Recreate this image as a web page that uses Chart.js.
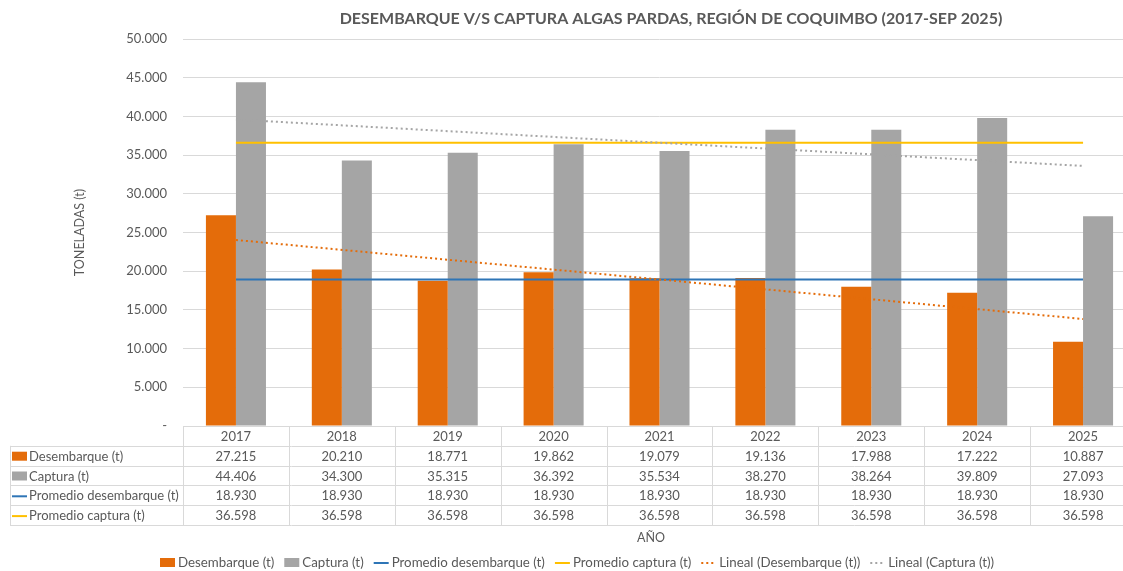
<!DOCTYPE html>
<html><head><meta charset="utf-8">
<script src="https://cdn.jsdelivr.net/npm/chart.js@4"></script>
<style>
html,body{margin:0;padding:0;background:#fff;overflow:hidden;width:1123px;height:571px}
#wrap{width:1140px;height:571px}
</style></head>
<body><div id="wrap"><canvas id="c" width="1140" height="571"></canvas></div>
<script>
const categories = ['2017','2018','2019','2020','2021','2022','2023','2024','2025'];
const desembarque = [27215, 20210, 18771, 19862, 19079, 19136, 17988, 17222, 10887];
const captura = [44406, 34300, 35315, 36392, 35534, 38270, 38264, 39809, 27093];
const promedioDesembarque = [18930, 18930, 18930, 18930, 18930, 18930, 18930, 18930, 18930];
const promedioCaptura = [36598, 36598, 36598, 36598, 36598, 36598, 36598, 36598, 36598];
const linealDesembarque = [24034, null, null, null, null, null, null, null, 13826];
const linealCaptura = [39595, null, null, null, null, null, null, null, 33601];
const yTickValues = [0, 5000, 10000, 15000, 20000, 25000, 30000, 35000, 40000, 45000, 50000];
const chartTitle = 'DESEMBARQUE V/S CAPTURA ALGAS PARDAS, REGIÓN DE COQUIMBO (2017-SEP 2025)';
const yTitle = 'TONELADAS (t)';
const xTitle = 'AÑO';

const ORANGE = '#E46C0A', GRAY = '#A5A5A5', BLUE = '#2E75B6', YELLOW = '#FFC000';
const TXT = '#595959', LINE = '#D9D9D9';
const FONT = 'Lato, "Open Sans", sans-serif';

function fmt(v){
  if (v === 0) return '-';
  return String(Math.round(v)).replace(/\B(?=(\d{3})+(?!\d))/g, '.');
}

const extras = {
  id: 'extras',
  afterDraw(chart){
    const ctx = chart.ctx, ca = chart.chartArea, xs = chart.scales.x;
    const ds = chart.data.datasets;
    ctx.save();
    // Title
    ctx.fillStyle = TXT;
    ctx.font = 'bold 16px ' + FONT;
    ctx.textAlign = 'center'; ctx.textBaseline = 'middle';
    ctx.fillText(chartTitle, 671, 19);
    // Y title
    ctx.save();
    ctx.translate(80, (ca.top + ca.bottom)/2);
    ctx.rotate(-Math.PI/2);
    ctx.font = '12.5px ' + FONT;
    ctx.fillText(yTitle, 0, 0);
    ctx.restore();
    // Table
    const n = categories.length;
    const step = xs.getPixelForValue(1) - xs.getPixelForValue(0);
    const top = ca.bottom, rh = 19.8;
    const rows = [
      {ds: ds[0], kind: 'rect', data: desembarque},
      {ds: ds[1], kind: 'rect', data: captura},
      {ds: ds[2], kind: 'line', data: promedioDesembarque},
      {ds: ds[3], kind: 'line', data: promedioCaptura}
    ];
    const bottom = top + rh * (rows.length + 1);
    const left = 10;
    ctx.strokeStyle = LINE; ctx.lineWidth = 1;
    ctx.beginPath();
    ctx.moveTo(ca.left, top + 0.5); ctx.lineTo(ca.right, top + 0.5);
    for (let r = 1; r <= rows.length + 1; r++){
      const y = Math.round(top + rh * r) + 0.5;
      ctx.moveTo(left, y); ctx.lineTo(ca.right, y);
    }
    for (let i = 0; i <= n; i++){
      const x = Math.round(xs.getPixelForValue(i) - step/2) + 0.5;
      ctx.moveTo(x, top); ctx.lineTo(x, bottom);
    }
    ctx.moveTo(left + 0.5, top + rh); ctx.lineTo(left + 0.5, bottom);
    ctx.stroke();
    ctx.font = '13px ' + FONT;
    ctx.fillStyle = TXT; ctx.textAlign = 'center'; ctx.textBaseline = 'middle';
    categories.forEach((c, i) => ctx.fillText(c, xs.getPixelForValue(i), top + rh/2 + 1));
    rows.forEach((row, r) => {
      const yc = top + rh * (r + 1) + rh/2 + 1;
      if (row.kind === 'rect'){
        ctx.fillStyle = row.ds.backgroundColor;
        ctx.fillRect(12, yc - 5, 15, 9);
      } else {
        ctx.strokeStyle = row.ds.borderColor; ctx.lineWidth = 2;
        ctx.beginPath(); ctx.moveTo(12, yc); ctx.lineTo(27, yc); ctx.stroke();
      }
      ctx.fillStyle = TXT; ctx.textAlign = 'left';
      ctx.fillText(row.ds.label, 29, yc);
      ctx.textAlign = 'center';
      row.data.forEach((v, i) => ctx.fillText(fmt(v), xs.getPixelForValue(i), yc));
    });
    // X title
    ctx.font = '12.5px ' + FONT;
    ctx.fillText(xTitle, 651, 538);
    // Legend
    ctx.font = '13.3px ' + FONT;
    let x = 160; const ly = 563;
    ds.forEach(d => {
      if (d.type === 'bar'){
        ctx.fillStyle = d.backgroundColor; ctx.fillRect(x, ly - 5, 15, 9);
      } else {
        ctx.strokeStyle = d.borderColor; ctx.lineWidth = 2;
        ctx.setLineDash(d.borderDash || []);
        ctx.beginPath(); ctx.moveTo(x, ly); ctx.lineTo(x + 15, ly); ctx.stroke();
        ctx.setLineDash([]);
      }
      ctx.fillStyle = TXT; ctx.textAlign = 'left';
      ctx.fillText(d.label, x + 18, ly);
      x += 18 + ctx.measureText(d.label).width + 10;
    });
    ctx.restore();
  }
};

new Chart(document.getElementById('c'), {
  data: {
    labels: categories,
    datasets: [
      {type: 'bar', label: 'Desembarque (t)', data: desembarque, backgroundColor: ORANGE, order: 2,
       categoryPercentage: 0.567, barPercentage: 1.0},
      {type: 'bar', label: 'Captura (t)', data: captura, backgroundColor: GRAY, order: 2,
       categoryPercentage: 0.567, barPercentage: 1.0},
      {type: 'line', label: 'Promedio desembarque (t)', data: promedioDesembarque, borderColor: BLUE,
       borderWidth: 2, pointRadius: 0, order: 1},
      {type: 'line', label: 'Promedio captura (t)', data: promedioCaptura, borderColor: YELLOW,
       borderWidth: 2, pointRadius: 0, order: 1},
      {type: 'line', label: 'Lineal (Desembarque (t))', data: linealDesembarque, borderColor: ORANGE,
       borderWidth: 2, borderDash: [2, 3], pointRadius: 0, spanGaps: true, order: 0},
      {type: 'line', label: 'Lineal (Captura (t))', data: linealCaptura, borderColor: GRAY,
       borderWidth: 2, borderDash: [2, 3], pointRadius: 0, spanGaps: true, order: 0}
    ]
  },
  options: {
    responsive: false,
    animation: false,
    devicePixelRatio: 1,
    layout: {padding: {top: 39, bottom: 145, left: 0, right: 4}},
    plugins: {legend: {display: false}, tooltip: {enabled: false}, title: {display: false}},
    scales: {
      x: {display: false, offset: true},
      y: {
        min: 0, max: 50000,
        afterFit: s => { s.width = 183; },
        afterBuildTicks: s => { s.ticks = yTickValues.map(v => ({value: v})); },
        border: {display: false},
        grid: {color: LINE, drawTicks: false},
        ticks: {padding: 16, color: TXT, font: {family: FONT, size: 13}, callback: v => fmt(v)}
      }
    }
  },
  plugins: [extras]
});
</script>
</body></html>
